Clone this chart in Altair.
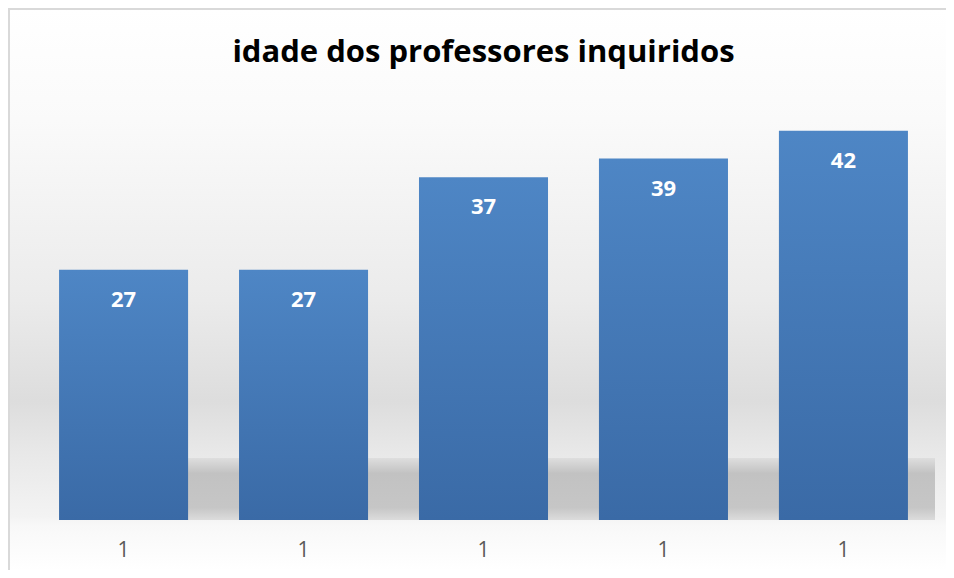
import altair as alt
import pandas as pd

# ---- data ----
categories = ["1", "1", "1", "1", "1"]
values = [27, 27, 37, 39, 42]
title_text = "idade dos professores inquiridos"

df = pd.DataFrame({"idx": list(range(len(values))), "label": categories, "value": values})
one = pd.DataFrame({"a": [0]})
title_df = pd.DataFrame({"t": [title_text]})

label_expr = "[" + ",".join("'" + c + "'" for c in categories) + "][datum.value]"

W, H = 900, 417
PL, PT, PR, PB = 25.5, 95, 12.5, 50

x_enc = alt.X(
    "idx:O",
    scale=alt.Scale(paddingInner=0.283, paddingOuter=0.142),
    axis=alt.Axis(
        title=None, labelExpr=label_expr, labelAngle=0, ticks=False, domain=False,
        labelFont="Open Sans", labelFontSize=21, labelColor="#595959", labelPadding=19,
        zindex=2,
    ),
)
y_enc = alt.Y("value:Q", scale=alt.Scale(domain=[0, 45]), axis=None)

bg = alt.Chart(one).mark_rect(
    fill=alt.Gradient(
        gradient="linear", x1=0, x2=0, y1=0, y2=1,
        stops=[
            alt.GradientStop(offset=0.0, color="#ffffff"),
            alt.GradientStop(offset=0.2, color="#fafafa"),
            alt.GradientStop(offset=0.52, color="#ebebeb"),
            alt.GradientStop(offset=0.70, color="#dddddd"),
            alt.GradientStop(offset=0.79, color="#e8e8e8"),
            alt.GradientStop(offset=0.905, color="#f3f3f3"),
            alt.GradientStop(offset=0.92, color="#f8f8f8"),
            alt.GradientStop(offset=1.0, color="#ffffff"),
        ],
    )
).encode(x=alt.value(-PL), x2=alt.value(W + PR), y=alt.value(-PT), y2=alt.value(H + PB))

shadow = alt.Chart(one).mark_rect(
    fill=alt.Gradient(
        gradient="linear", x1=0, x2=0, y1=0, y2=1,
        stops=[
            alt.GradientStop(offset=0.0, color="#dedede"),
            alt.GradientStop(offset=0.25, color="#c2c2c2"),
            alt.GradientStop(offset=0.8, color="#c6c6c6"),
            alt.GradientStop(offset=1.0, color="#dcdcdc"),
        ],
    )
).encode(x=alt.value(154.5), x2=alt.value(901.5), y=alt.value(355), y2=alt.value(H))

border_top = alt.Chart(one).mark_rule(color="#d9d9d9", strokeWidth=2).encode(
    x=alt.value(-PL), x2=alt.value(W + PR), y=alt.value(-PT + 1)
)
border_left = alt.Chart(one).mark_rule(color="#d9d9d9", strokeWidth=2).encode(
    x=alt.value(-PL + 1), y=alt.value(-PT), y2=alt.value(H + PB)
)

title = alt.Chart(title_df).mark_text(
    font="Open Sans", fontSize=31, fontWeight="bold", color="black",
    align="center", baseline="alphabetic",
).encode(x=alt.value(W / 2), y=alt.value(-41), text="t:N")

bars = alt.Chart(df).mark_bar(
    fill=alt.Gradient(
        gradient="linear", x1=0, x2=0, y1=0, y2=1,
        stops=[
            alt.GradientStop(offset=0.0, color="#4e86c5"),
            alt.GradientStop(offset=1.0, color="#3a6aa6"),
        ],
    )
).encode(x=x_enc, y=y_enc)

labels = alt.Chart(df).mark_text(
    font="Open Sans", fontSize=22, fontWeight="bold", color="white", dy=30, baseline="middle"
).encode(x=x_enc, y=y_enc, text="value:Q")

chart = alt.layer(bg, shadow, border_top, border_left, title, bars, labels).properties(
    width=W, height=H,
    autosize=alt.AutoSizeParams(type="none"),
    padding={"left": PL, "top": PT, "right": PR, "bottom": PB},
).configure_view(stroke=None)

chart.save("out.html", embed_options={"renderer": "svg", "actions": False})
